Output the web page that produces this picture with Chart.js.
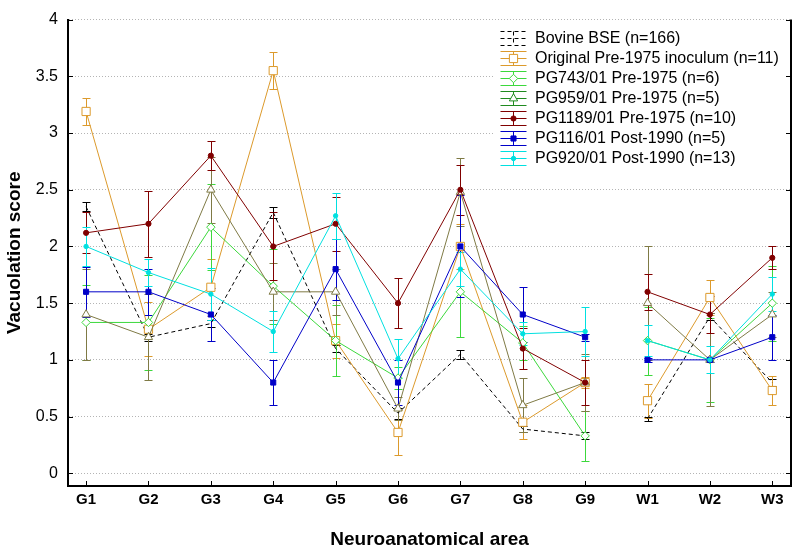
<!DOCTYPE html>
<html>
<head>
<meta charset="utf-8">
<script src="https://cdn.jsdelivr.net/npm/chart.js@4.4.1/dist/chart.umd.min.js"></script>
<style>
  html, body { margin: 0; padding: 0; background: #fff; }
  #wrap { width: 801px; height: 554px; position: relative; }
</style>
</head>
<body>
<div id="wrap"><canvas id="chart"></canvas></div>
<script>
// data
const categories = ["G1", "G2", "G3", "G4", "G5", "G6", "G7", "G8", "G9", "W1", "W2", "W3"];
const yTicks = [0, 0.5, 1, 1.5, 2, 2.5, 3, 3.5, 4];

const bse = [2.35, 1.2, 1.32, 2.3, 1.1, 0.53, 1.05, 0.39, 0.33, 0.48, 1.38, 0.8];
const bseErr = [0.04, 0.03, 0.03, 0.05, 0.03, 0.05, 0.04, 0.03, 0.03, 0.02, 0.03, 0.03];

const original = [3.19, 1.27, 1.64, 3.55, 1.17, 0.36, 2.0, 0.45, 0.8, 0.64, 1.55, 0.73];
const originalErr = [0.12, 0.24, 0.25, 0.16, 0.15, 0.2, 0.2, 0.15, 0.05, 0.15, 0.15, 0.13];

const pg743 = [1.33, 1.33, 2.17, 1.65, 1.17, 0.84, 1.6, 1.15, 0.33, 1.17, 1.0, 1.5];
const pg743Err = [0.33, 0.42, 0.38, 0.33, 0.31, 0.1, 0.4, 0.15, 0.22, 0.3, 0.37, 0.33];

const pg959 = [1.4, 1.2, 2.5, 1.6, 1.6, 0.57, 2.48, 0.6, 0.8, 1.5, 1.0, 1.4];
const pg959Err = [0.4, 0.38, 0.29, 0.25, 0.2, 0.1, 0.3, 0.24, 0.25, 0.5, 0.41, 0.2];

const pg1189 = [2.12, 2.2, 2.8, 2.0, 2.2, 1.5, 2.5, 1.1, 0.8, 1.6, 1.4, 1.9];
const pg1189Err = [0.18, 0.29, 0.13, 0.3, 0.24, 0.22, 0.22, 0.18, 0.2, 0.16, 0.16, 0.1];

const pg116 = [1.6, 1.6, 1.4, 0.8, 1.8, 0.8, 2.0, 1.4, 1.2, 1.0, 1.0, 1.2];
const pg116Err = [0.22, 0.2, 0.23, 0.2, 0.27, 0.2, 0.45, 0.24, 0.03, 0.02, 0.02, 0.2];

const pg920 = [2.0, 1.77, 1.58, 1.25, 2.27, 1.01, 1.8, 1.23, 1.25, 1.17, 1.0, 1.58];
const pg920Err = [0.17, 0.12, 0.23, 0.18, 0.2, 0.17, 0.15, 0.1, 0.22, 0.14, 0.12, 0.15];

const series = [
  { label: "Bovine BSE (n=166)", values: bse, errors: bseErr, color: "#000000", legendColor: "#000000", style: "circle", radius: 0, fill: "#000000", dash: [4, 3] },
  { label: "Original Pre-1975 inoculum (n=11)", values: original, errors: originalErr, color: "#dc9a2c", legendColor: "#dc9a2c", style: "rect", radius: 5.8, fill: "#ffffff" },
  { label: "PG743/01 Pre-1975 (n=6)", values: pg743, errors: pg743Err, color: "#3cd83c", legendColor: "#3cd83c", style: "rectRot", radius: 4.2, fill: "#ffffff" },
  { label: "PG959/01 Pre-1975 (n=5)", values: pg959, errors: pg959Err, color: "#7f7a45", legendColor: "#1f8a1f", style: "triangle", radius: 4.8, fill: "#ffffff" },
  { label: "PG1189/01 Pre-1975 (n=10)", values: pg1189, errors: pg1189Err, color: "#800000", legendColor: "#800000", style: "circle", radius: 2.6, fill: "#800000" },
  { label: "PG116/01 Post-1990 (n=5)", values: pg116, errors: pg116Err, color: "#0000c8", legendColor: "#0000c8", style: "rect", radius: 3.6, fill: "#0000c8" },
  { label: "PG920/01 Post-1990 (n=13)", values: pg920, errors: pg920Err, color: "#00e0e0", legendColor: "#00e0e0", style: "circle", radius: 2.2, fill: "#00e0e0" },
];

const FONT = 'Arial, "Liberation Sans", sans-serif';
Chart.defaults.font.family = FONT;
Chart.defaults.color = "#000";

// 誤差線 (drawn under the markers)
const errorBarPlugin = {
  id: "errorBars",
  beforeDatasetsDraw: (chart) => {
    const { ctx, scales: { x, y } } = chart;
    chart.data.datasets.forEach((ds) => {
      ctx.save();
      ctx.strokeStyle = ds.borderColor;
      ctx.lineWidth = 1;
      ds.data.forEach((p, i) => {
        const e = ds.errors[i];
        const px = Math.round(x.getPixelForValue(p.x)) + 0.5;
        const yTop = Math.round(y.getPixelForValue(p.y + e)) + 0.5;
        const yBot = Math.round(y.getPixelForValue(p.y - e)) + 0.5;
        ctx.beginPath();
        ctx.moveTo(px, yTop);
        ctx.lineTo(px, yBot);
        ctx.moveTo(px - 4, yTop);
        ctx.lineTo(px + 4, yTop);
        ctx.moveTo(px - 4, yBot);
        ctx.lineTo(px + 4, yBot);
        ctx.stroke();
      });
      ctx.restore();
    });
  },
};

// right axis line + inward tick marks
const axisTicksPlugin = {
  id: "axisTicks",
  afterDraw: (chart) => {
    const { ctx, chartArea: { left, right, top, bottom }, scales: { x, y } } = chart;
    ctx.save();
    ctx.strokeStyle = "#000";
    ctx.lineWidth = 2;
    ctx.beginPath();
    ctx.moveTo(right, top);
    ctx.lineTo(right, bottom + 1);
    ctx.stroke();
    ctx.lineWidth = 1;
    ctx.beginPath();
    yTicks.forEach((v) => {
      const py = Math.round(y.getPixelForValue(v)) + 0.5;
      ctx.moveTo(left, py);
      ctx.lineTo(left + 5, py);
      ctx.moveTo(right - 5, py);
      ctx.lineTo(right, py);
    });
    categories.forEach((c, i) => {
      const px = Math.round(x.getPixelForValue(i)) + 0.5;
      ctx.moveTo(px, bottom);
      ctx.lineTo(px, bottom - 5);
    });
    ctx.stroke();
    ctx.restore();
  },
};

// legend in the top right corner of the plot
const legendPlugin = {
  id: "boxLegend",
  afterDatasetsDraw: (chart) => {
    const ctx = chart.ctx;
    ctx.save();
    ctx.fillStyle = "#fff";
    ctx.fillRect(495, 23, 292, 148);
    series.forEach((s, i) => {
      const cy = 38 + i * 20 + 0.5;
      const cx = 513.5;
      ctx.strokeStyle = s.legendColor;
      ctx.lineWidth = 1;
      ctx.setLineDash(s.dash || []);
      ctx.beginPath();
      [-7, 0, 7].forEach((d) => {
        ctx.moveTo(cx - 13, cy + d);
        ctx.lineTo(cx + 13, cy + d);
      });
      ctx.moveTo(cx, cy - 7);
      ctx.lineTo(cx, cy + 7);
      ctx.stroke();
      ctx.setLineDash([]);
      if (s.radius > 0) {
        ctx.fillStyle = s.fill;
        Chart.helpers.drawPoint(ctx, { pointStyle: s.style, radius: s.radius, rotation: 0, borderWidth: 1 }, cx, cy);
      }
      ctx.fillStyle = "#000";
      ctx.font = "16px " + FONT;
      ctx.textBaseline = "middle";
      ctx.fillText(s.label, 535, cy);
    });
    ctx.restore();
  },
};

const datasets = series.map((s, i) => ({
  label: s.label,
  data: s.values.map((v, j) => ({ x: j, y: v })),
  errors: s.errors,
  borderColor: s.color,
  borderWidth: 1,
  borderDash: s.dash || [],
  backgroundColor: s.fill,
  pointStyle: s.style,
  pointRadius: s.radius,
  pointBorderWidth: 1,
  pointBorderColor: s.color,
  pointBackgroundColor: s.fill,
  tension: 0,
  order: series.length - i,
  // G9 與 W1 之間不連線
  segment: {
    borderColor: (c) => (c.p0DataIndex === 8 ? "rgba(0,0,0,0)" : undefined),
  },
}));

new Chart(document.getElementById("chart"), {
  type: "line",
  data: { datasets },
  options: {
    responsive: true,
    maintainAspectRatio: false,
    animation: false,
    events: [],
    layout: { padding: { top: 10, right: 10, left: 0, bottom: 0 } },
    plugins: {
      legend: { display: false },
      tooltip: { enabled: false },
    },
    scales: {
      x: {
        type: "linear",
        min: -0.29,
        max: 11.3,
        afterBuildTicks: (axis) => {
          axis.ticks = categories.map((c, i) => ({ value: i }));
        },
        afterFit: (axis) => {
          axis.height = 68;
        },
        grid: { display: false, drawTicks: false },
        border: { display: true, color: "#000", width: 2 },
        ticks: {
          autoSkip: false,
          maxRotation: 0,
          padding: 5,
          color: "#000",
          font: { size: 15, weight: "bold" },
          callback: (v) => categories[v] ?? "",
        },
        title: {
          display: true,
          text: "Neuroanatomical area",
          font: { size: 19, weight: "bold" },
          padding: { top: 0, bottom: 3 },
        },
      },
      y: {
        type: "linear",
        min: -0.112,
        max: 4,
        afterBuildTicks: (axis) => {
          axis.ticks = yTicks.map((v) => ({ value: v }));
        },
        afterFit: (axis) => {
          axis.width = 68;
        },
        grid: { color: "#b4b4b4", drawTicks: false, lineWidth: 1 },
        border: { display: true, color: "#000", width: 2, dash: [1, 2] },
        ticks: {
          padding: 10,
          color: "#000",
          font: { size: 16 },
          callback: (v) => String(v),
        },
        title: {
          display: true,
          text: "Vacuolation score",
          font: { size: 19, weight: "bold" },
          padding: { top: 3, bottom: 0 },
        },
      },
    },
  },
  plugins: [errorBarPlugin, legendPlugin, axisTicksPlugin],
});
</script>
</body>
</html>
